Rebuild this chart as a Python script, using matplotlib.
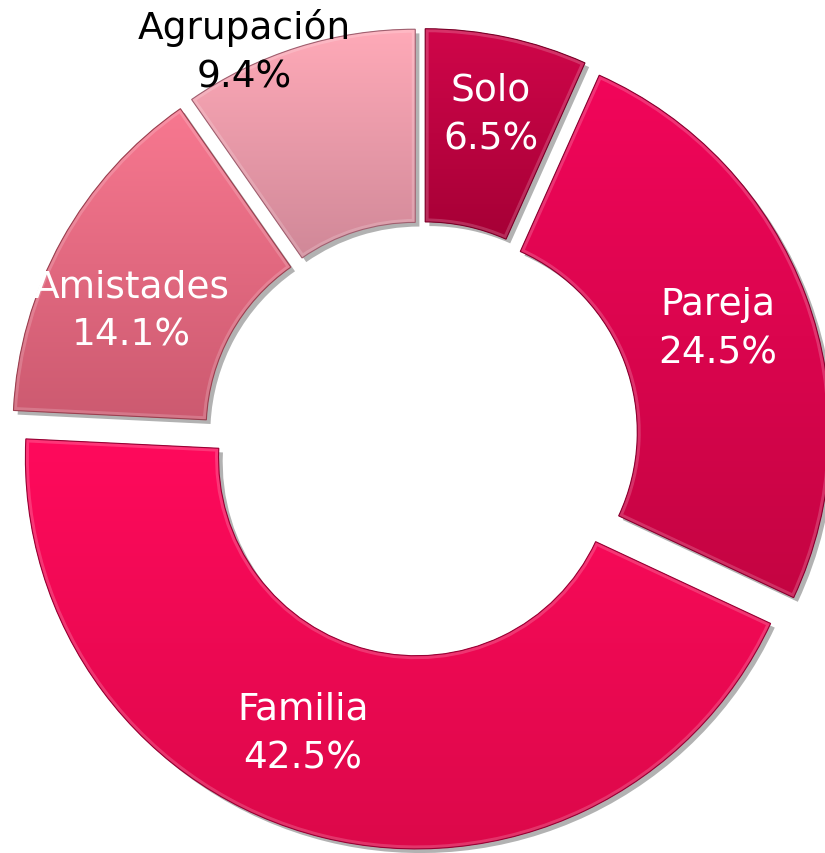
import numpy as np
import matplotlib
matplotlib.use("Agg")
import matplotlib.pyplot as plt
import matplotlib.patches as mp
from matplotlib.colors import LinearSegmentedColormap
import matplotlib.patheffects as pe

categories = ["Solo", "Pareja", "Familia", "Amistades", "Agrupación"]
values = [6.5, 24.5, 42.5, 14.1, 9.4]
pct_labels = ["6.5%", "24.5%", "42.5%", "14.1%", "9.4%"]

# styling
top_colors = ["#D0064A", "#F2065A", "#FF0A5C", "#F87890", "#FFAAB8"]
bot_colors = ["#A60036", "#C40442", "#DC084A", "#CC5A70", "#D08898"]
edge_colors = ["#7A0028", "#8A0030", "#980034", "#9A4050", "#A06070"]
text_colors = ["white", "white", "white", "white", "black"]
label_radius = [0.80, 0.76, 0.76, 0.76, 1.04]
label_angle_shift = [0, 0, 8, -5, -7]  # degrees, clockwise

fig = plt.figure(figsize=(8.25, 8.54), dpi=100)
ax = fig.add_axes([0, 0, 1, 1])
ax.axis("off")

explode = [0.05] * len(values)
wedges, _ = ax.pie(values, startangle=90, counterclock=False, explode=explode,
                   radius=1.0, wedgeprops=dict(width=0.494, linewidth=0))
ax.set_aspect("auto")

grad = np.linspace(1, 0, 256).reshape(-1, 1)
for i, w in enumerate(wedges):
    w.set_facecolor(bot_colors[i])
    w.set_path_effects([pe.SimplePatchShadow(offset=(3, -3), shadow_rgbFace="#000000", alpha=0.3),
                        pe.Normal()])
    ext = w.get_path().get_extents()
    cmap = LinearSegmentedColormap.from_list("g%d" % i, [bot_colors[i], top_colors[i]])
    im = ax.imshow(grad, cmap=cmap, extent=[ext.x0, ext.x1, ext.y0, ext.y1],
                   aspect="auto", origin="upper", zorder=w.get_zorder() + 0.1,
                   interpolation="bilinear")
    im.set_clip_path(w)
    hl = mp.PathPatch(w.get_path(), facecolor="none", edgecolor="white", alpha=0.18,
                      linewidth=5, zorder=w.get_zorder() + 0.2)
    ax.add_patch(hl)
    hl.set_clip_path(w)
    ed = mp.PathPatch(w.get_path(), facecolor="none", edgecolor=edge_colors[i],
                      linewidth=0.8, zorder=w.get_zorder() + 0.3)
    ax.add_patch(ed)

ax.set_xlim(-1.077, 1.033)
ax.set_ylim(-1.059, 1.125)

total = sum(values)
cum = 0
for i, v in enumerate(values):
    mid = (cum + v / 2) / total * 360 + label_angle_shift[i]
    cum += v
    th = np.deg2rad(90 - mid)
    r = label_radius[i] + explode[i]
    x, y = r * np.cos(th), r * np.sin(th)
    ax.text(x, y, categories[i] + "\n" + pct_labels[i], ha="center", va="center",
            fontsize=27, color=text_colors[i], family="DejaVu Sans",
            linespacing=1.45, zorder=10)

fig.savefig("out.png", dpi=100)
